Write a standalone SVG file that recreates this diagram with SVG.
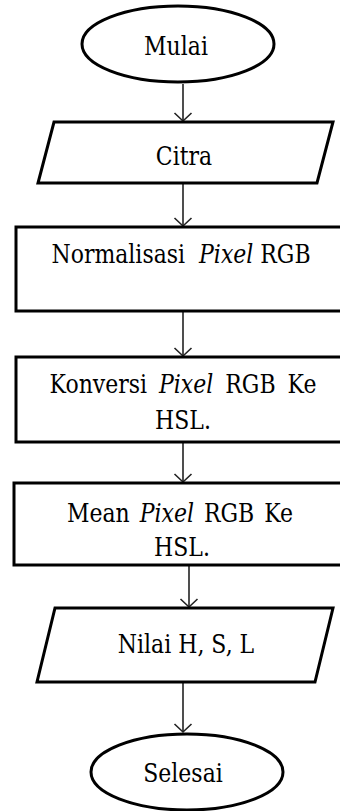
<svg xmlns="http://www.w3.org/2000/svg" width="340" height="811" viewBox="0 0 340 811">
<defs>
<style>
.shape{fill:#fff;stroke:#000;stroke-width:3}
.conn{fill:none;stroke:#222;stroke-width:1.6}
.lbl{font-family:"DejaVu Serif","Liberation Serif",serif;font-size:22px;fill:#000;text-anchor:middle}
.it{font-style:italic}
</style>
<marker id="arr" markerWidth="20" markerHeight="20" refX="10" refY="10" orient="auto" markerUnits="userSpaceOnUse">
<path d="M2,1.5 L10,10 L2,18.5" fill="none" stroke="#222" stroke-width="1.6"/>
</marker>
</defs>
<rect width="340" height="811" fill="#fff"/>
<g id="connectors">
<line class="conn" x1="183" y1="84" x2="183" y2="121" marker-end="url(#arr)"/>
<line class="conn" x1="183" y1="184" x2="183" y2="226" marker-end="url(#arr)"/>
<line class="conn" x1="183" y1="312" x2="183" y2="356" marker-end="url(#arr)"/>
<line class="conn" x1="183" y1="443" x2="183" y2="482" marker-end="url(#arr)"/>
<line class="conn" x1="189" y1="566" x2="189" y2="607" marker-end="url(#arr)"/>
<line class="conn" x1="183" y1="683" x2="183" y2="732" marker-end="url(#arr)"/>
</g>
<g id="mulai">
<ellipse class="shape" cx="178" cy="44" rx="96" ry="38"/>
<text class="lbl" transform="translate(176,55) scale(1,1.2)">Mulai</text>
</g>
<g id="citra">
<polygon class="shape" points="54,122 333,122 317,183 38,183"/>
<text class="lbl" transform="translate(184,165) scale(1,1.2)">Citra</text>
</g>
<g id="normalisasi">
<rect class="shape" x="16" y="227" width="330" height="84"/>
<text class="lbl" transform="translate(181,263) scale(1,1.2)" xml:space="preserve">Normalisasi  <tspan class="it">Pixel</tspan> RGB</text>
</g>
<g id="konversi">
<rect class="shape" x="16" y="357" width="330" height="85"/>
<text class="lbl" transform="translate(183,393) scale(1,1.2)" word-spacing="5">Konversi <tspan class="it">Pixel</tspan> RGB Ke</text>
<text class="lbl" transform="translate(183,429) scale(1,1.2)">HSL.</text>
</g>
<g id="mean">
<rect class="shape" x="14" y="483" width="332" height="82"/>
<text class="lbl" transform="translate(180,522) scale(1,1.2)" word-spacing="3">Mean <tspan class="it">Pixel</tspan> RGB Ke</text>
<text class="lbl" transform="translate(182,556) scale(1,1.2)">HSL.</text>
</g>
<g id="nilai">
<polygon class="shape" points="55,608 333,608 315,682 37,682"/>
<text class="lbl" transform="translate(186,653) scale(1,1.2)">Nilai H, S, L</text>
</g>
<g id="selesai">
<ellipse class="shape" cx="187" cy="772" rx="96" ry="38"/>
<text class="lbl" transform="translate(183,782) scale(1,1.2)">Selesai</text>
</g>
</svg>
